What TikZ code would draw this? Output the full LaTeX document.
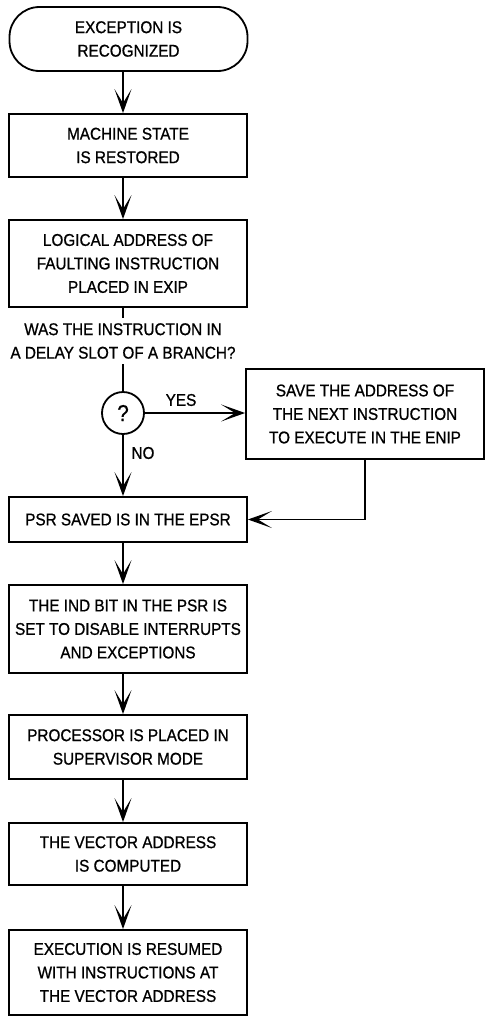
\documentclass[tikz,border=0pt]{standalone}
\usepackage{fontspec}
\setmainfont{Liberation Sans}[FakeStretch=0.9, FakeBold=0.8]
\usepackage{tikz}
\usetikzlibrary{arrows.meta}

\tikzset{
  stepbox/.style={draw, line width=1.8pt, minimum width=238pt, align=center, inner sep=0pt},
  flow/.style={line width=1.6pt, -{Stealth[length=24pt, width=17pt, inset=14pt]}},
  plain/.style={line width=1.6pt},
  flowtext/.style={font=\fontsize{17}{23.5}\selectfont}
}

\begin{document}
\begin{tikzpicture}[x=1pt,y=1pt,yscale=-1,xscale=1, every node/.style={flowtext}]
\useasboundingbox (0,0) rectangle (486,1017);

%Shape: Terminal
\node [stepbox, rounded corners=30pt, minimum height=64pt] (recog) at (128.5,39) {EXCEPTION IS\\RECOGNIZED};
%Shape: Rectangle
\node [stepbox, minimum height=63pt] (restore) at (128,145.5) {MACHINE STATE\\IS RESTORED};
%Shape: Rectangle
\node [stepbox, minimum height=87pt] (exip) at (128,263.5) {LOGICAL ADDRESS OF\\FAULTING INSTRUCTION\\PLACED IN EXIP};
% Text Node
\node [inner sep=0pt, align=center, minimum height=46pt] (ask) at (123,341) {WAS THE INSTRUCTION IN\\A DELAY SLOT OF A BRANCH?};
%Shape: Circle
\node [draw, circle, line width=1.8pt, minimum size=42pt, inner sep=0pt, font=\fontsize{23}{23}\selectfont] (q) at (123,413) {?};
%Shape: Rectangle
\node [stepbox, minimum height=90pt] (enip) at (365,414) {SAVE THE ADDRESS OF\\THE NEXT INSTRUCTION\\TO EXECUTE IN THE ENIP};
%Shape: Rectangle
\node [stepbox, minimum height=45pt] (epsr) at (128,519.5) {PSR SAVED IS IN THE EPSR};
%Shape: Rectangle
\node [stepbox, minimum height=88pt] (ind) at (128,629) {THE IND BIT IN THE PSR IS\\SET TO DISABLE INTERRUPTS\\AND EXCEPTIONS};
%Shape: Rectangle
\node [stepbox, minimum height=64pt] (super) at (128,747) {PROCESSOR IS PLACED IN\\SUPERVISOR MODE};
%Shape: Rectangle
\node [stepbox, minimum height=62pt] (vector) at (128,854) {THE VECTOR ADDRESS\\IS COMPUTED};
%Shape: Rectangle
\node [stepbox, minimum height=85pt] (resume) at (128,972.5) {EXECUTION IS RESUMED\\WITH INSTRUCTIONS AT\\THE VECTOR ADDRESS};

% Text Node
\node [inner sep=0pt] (yes) at (181,400) {YES};
% Text Node
\node [inner sep=0pt] (no) at (143,453) {NO};

%Straight Lines
\draw [flow] (recog.south -| q.center) -- (restore.north -| q.center);
\draw [flow] (restore.south -| q.center) -- (exip.north -| q.center);
\draw [plain] (exip.south -| q.center) -- (ask.north);
\draw [plain] (ask.south) -- (q.north);
\draw [flow] (q.east) -- (enip.west |- q.east);
\draw [flow] (q.south) -- (epsr.north -| q.center);
\draw [flow] (enip.south) |- (epsr.east);
\draw [flow] (epsr.south -| q.center) -- (ind.north -| q.center);
\draw [flow] (ind.south -| q.center) -- (super.north -| q.center);
\draw [flow] (super.south -| q.center) -- (vector.north -| q.center);
\draw [flow] (vector.south -| q.center) -- (resume.north -| q.center);
\end{tikzpicture}
\end{document}
